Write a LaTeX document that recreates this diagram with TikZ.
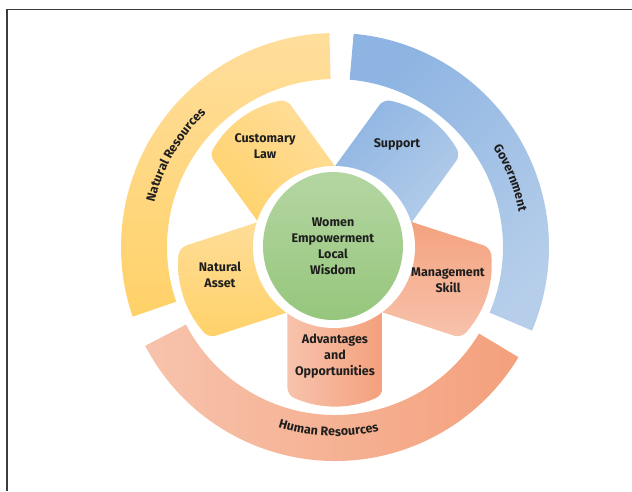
\documentclass[tikz,border=0pt]{standalone}
\usepackage{fontspec}
\setmainfont{Fira Sans}
\usetikzlibrary{decorations.text}
\definecolor{ink}{RGB}{30,30,30}
\definecolor{frame}{RGB}{60,60,60}
\definecolor{sunlight}{RGB}{255,222,156}
\definecolor{sundark}{RGB}{255,209,104}
\definecolor{skylight}{RGB}{182,206,234}
\definecolor{skydark}{RGB}{141,180,226}
\definecolor{salmonlight}{RGB}{247,195,172}
\definecolor{salmondark}{RGB}{244,160,124}
\definecolor{leaflight}{RGB}{180,214,162}
\definecolor{leafdark}{RGB}{150,198,124}

\begin{document}
\begin{tikzpicture}[x=1pt, y=1pt,
    petal/.style={rotate=#1, rounded corners=7, insert path={(40,-47.5) -- (148,-47.5) -- (153.7,-35) -- (158.4,-18) -- (160,0) -- (158.4,18) -- (153.7,35) -- (148,47.5) -- (40,47.5) -- cycle}},
    word/.style={font=\bfseries\fontsize{12.5}{16}\selectfont, text=ink, align=center, inner sep=0pt},
    ringword/.style={decorate, decoration={text along path, text align=center, text color=ink, text={|\bfseries\fontsize{12.5}{14}\selectfont|#1}}}]

    \useasboundingbox (-335,-244) rectangle (297,247);
    \draw[frame, line width=1.3pt] (-328,-244) -- (-328,237.5) -- (297,237.5);

    % outer ring
    \path[top color=sunlight, bottom color=sundark] (91.5:214) arc[start angle=91.5, end angle=199, radius=214] -- (199:168) arc[start angle=199, end angle=91.5, radius=168] -- cycle;
    \path[top color=skydark, bottom color=skylight, shading angle=45] (-23:214) arc[start angle=-23, end angle=85, radius=214] -- (85:168) arc[start angle=85, end angle=-23, radius=168] -- cycle;
    \path[left color=salmonlight, right color=salmondark] (207.5:214) arc[start angle=207.5, end angle=329, radius=214] -- (329:168) arc[start angle=329, end angle=207.5, radius=168] -- cycle;
    \path[ringword=Natural Resources] (200:186) arc[start angle=200, end angle=100, radius=186];
    \path[ringword=Government] (75:187) arc[start angle=75, end angle=-32, radius=187];
    \path[ringword=Human Resources] (208:189) arc[start angle=208, end angle=328, radius=189];

    % petals
    \path[petal=126, top color=sunlight, bottom color=sundark, shading angle=-45];
    \path[petal=54, top color=skydark, bottom color=skylight, shading angle=45];
    \path[petal=-18, top color=salmondark, bottom color=salmonlight];
    \path[petal=270, left color=salmonlight, right color=salmondark];
    \path[petal=198, top color=sunlight, bottom color=sundark];

    \fill[white] (-1,0) circle[radius=81];
    \shade[top color=leaflight, bottom color=leafdark] (-2,1) ellipse[x radius=70, y radius=74];

    \node[word] (core) at (-2,1) {Women\\Empowerment\\Local\\Wisdom};
    \node[word] (law) at (-70,101) {Customary\\Law};
    \node[word] (support) at (62,103) {Support};
    \node[word] (skill) at (113,-33) {Management\\Skill};
    \node[word] (chances) at (0,-109) {Advantages\\and\\Opportunities};
    \node[word] (asset) at (-115,-28) {Natural\\Asset};

\end{tikzpicture}
\end{document}
